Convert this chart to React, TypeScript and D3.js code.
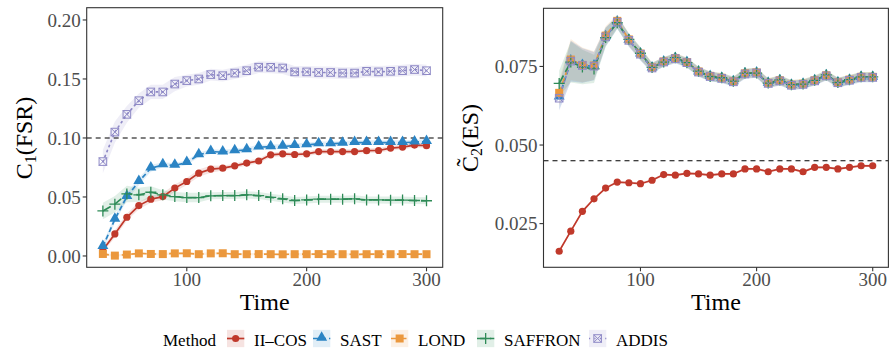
import React from "react";
import * as d3 from "d3";

// ---------------- data ----------------
const times = [30, 40, 50, 60, 70, 80, 90, 100, 110, 120, 130, 140, 150, 160, 170, 180, 190, 200, 210, 220, 230, 240, 250, 260, 270, 280, 290, 300];

const methods = ["II\u2013COS", "SAST", "LOND", "SAFFRON", "ADDIS"];

// C1 (FSR)
const iicosFSR = [0.005, 0.0187, 0.0328, 0.0427, 0.0481, 0.0503, 0.0575, 0.0631, 0.0702, 0.0736, 0.0744, 0.0764, 0.0787, 0.0805, 0.0857, 0.0866, 0.086, 0.0866, 0.0885, 0.0885, 0.0885, 0.0885, 0.0892, 0.0894, 0.0914, 0.0923, 0.094, 0.0935];
const sastFSR = [0.0079, 0.0311, 0.0503, 0.063, 0.0744, 0.0772, 0.0767, 0.0792, 0.0857, 0.0885, 0.088, 0.0891, 0.09, 0.0923, 0.0925, 0.0928, 0.0934, 0.0942, 0.095, 0.095, 0.0955, 0.096, 0.096, 0.096, 0.096, 0.096, 0.0965, 0.097];
const londFSR = [0.0017, 0.0003, 0.0012, 0.0022, 0.0017, 0.0016, 0.0022, 0.0023, 0.0015, 0.0022, 0.0023, 0.0015, 0.0015, 0.0016, 0.0015, 0.0014, 0.0015, 0.0015, 0.0016, 0.0015, 0.0015, 0.0014, 0.0015, 0.0015, 0.0015, 0.0016, 0.0015, 0.0015];
const saffronFSR = [0.0382, 0.0439, 0.0526, 0.0518, 0.054, 0.0518, 0.0503, 0.0495, 0.0495, 0.051, 0.0512, 0.0512, 0.0518, 0.0512, 0.0497, 0.0484, 0.047, 0.0475, 0.0481, 0.0481, 0.0481, 0.0484, 0.0475, 0.0475, 0.0473, 0.0474, 0.047, 0.0468];
const addisFSR = [0.08, 0.105, 0.12, 0.1316, 0.139, 0.139, 0.1457, 0.1486, 0.15, 0.1537, 0.1528, 0.155, 0.157, 0.16, 0.1599, 0.1593, 0.156, 0.156, 0.1555, 0.1555, 0.155, 0.155, 0.1565, 0.156, 0.1565, 0.157, 0.158, 0.157];

// half-widths of the shaded bands (FSR)
const iicosFSRse = [0.002, 0.003, 0.003, 0.003, 0.003, 0.003, 0.003, 0.003, 0.003, 0.003, 0.002, 0.002, 0.002, 0.002, 0.002, 0.002, 0.002, 0.002, 0.002, 0.002, 0.002, 0.002, 0.002, 0.002, 0.002, 0.002, 0.002, 0.002];
const sastFSRse = [0.003, 0.003, 0.003, 0.003, 0.003, 0.002, 0.002, 0.002, 0.002, 0.002, 0.002, 0.002, 0.002, 0.002, 0.002, 0.002, 0.002, 0.002, 0.002, 0.002, 0.002, 0.002, 0.002, 0.002, 0.002, 0.002, 0.002, 0.002];
const londFSRse = [0.001, 0.001, 0.001, 0.001, 0.001, 0.001, 0.001, 0.001, 0.001, 0.001, 0.001, 0.001, 0.001, 0.001, 0.001, 0.001, 0.001, 0.001, 0.001, 0.001, 0.001, 0.001, 0.001, 0.001, 0.001, 0.001, 0.001, 0.001];
const saffronFSRse = [0.007, 0.007, 0.007, 0.006, 0.005, 0.004, 0.004, 0.004, 0.004, 0.003, 0.003, 0.003, 0.003, 0.003, 0.003, 0.003, 0.003, 0.003, 0.003, 0.003, 0.003, 0.003, 0.003, 0.003, 0.003, 0.003, 0.003, 0.003];
const addisFSRse = [0.01, 0.009, 0.007, 0.006, 0.006, 0.006, 0.006, 0.005, 0.005, 0.005, 0.005, 0.005, 0.005, 0.005, 0.005, 0.005, 0.005, 0.005, 0.005, 0.005, 0.005, 0.005, 0.005, 0.005, 0.005, 0.005, 0.005, 0.005];

// C2~ (ES)
const iicosES = [0.0162, 0.0226, 0.0289, 0.0329, 0.0363, 0.0382, 0.038, 0.0377, 0.0388, 0.0406, 0.0404, 0.041, 0.0408, 0.0404, 0.0408, 0.0408, 0.0424, 0.0424, 0.0415, 0.0424, 0.0424, 0.0415, 0.0429, 0.0429, 0.0424, 0.0429, 0.0434, 0.0434];
const sastES = [0.0652, 0.0767, 0.0753, 0.0751, 0.0844, 0.0891, 0.0833, 0.0789, 0.0745, 0.0764, 0.0775, 0.0762, 0.0732, 0.0718, 0.0712, 0.0701, 0.0726, 0.0729, 0.0696, 0.0704, 0.069, 0.0693, 0.0704, 0.072, 0.0698, 0.0706, 0.0715, 0.0715];
const londES = [0.0666, 0.0772, 0.0755, 0.0753, 0.0848, 0.0895, 0.0836, 0.0791, 0.0747, 0.0766, 0.0777, 0.0764, 0.0734, 0.072, 0.0714, 0.0703, 0.0728, 0.0731, 0.0698, 0.0706, 0.0692, 0.0695, 0.0706, 0.0722, 0.07, 0.0708, 0.0717, 0.0717];
const saffronES = [0.0696, 0.0764, 0.0748, 0.0742, 0.0842, 0.0889, 0.0836, 0.0792, 0.0747, 0.0764, 0.0778, 0.0762, 0.0735, 0.0718, 0.0714, 0.0703, 0.0729, 0.0729, 0.0697, 0.0707, 0.0692, 0.0694, 0.0706, 0.0723, 0.0699, 0.0708, 0.0717, 0.0717];
const addisES = [0.0649, 0.0767, 0.0753, 0.0751, 0.0844, 0.0891, 0.0833, 0.0789, 0.0745, 0.0764, 0.0775, 0.0762, 0.0732, 0.0718, 0.0712, 0.0701, 0.0726, 0.0729, 0.0696, 0.0704, 0.069, 0.0693, 0.0704, 0.072, 0.0698, 0.0706, 0.0715, 0.0715];

const iicosESse = [0.0004, 0.0004, 0.0004, 0.0004, 0.0004, 0.0004, 0.0004, 0.0004, 0.0004, 0.0004, 0.0004, 0.0004, 0.0004, 0.0004, 0.0004, 0.0004, 0.0004, 0.0004, 0.0004, 0.0004, 0.0004, 0.0004, 0.0004, 0.0004, 0.0004, 0.0004, 0.0004, 0.0004];
const upperESse = [0.004, 0.0065, 0.0055, 0.0045, 0.003, 0.002, 0.002, 0.002, 0.0015, 0.0015, 0.0015, 0.0015, 0.0015, 0.0015, 0.0015, 0.0015, 0.0015, 0.0015, 0.0015, 0.0015, 0.0015, 0.0015, 0.0015, 0.0015, 0.0015, 0.0015, 0.0015, 0.0015];

const fsrTicks = [0.0, 0.05, 0.1, 0.15, 0.2];
const esTicks = [0.025, 0.05, 0.075];
const timeTicks = [100, 200, 300];
const fsrTarget = 0.1;
const esTarget = 0.045;

// ---------------- styles ----------------
const colors = ["#C0392B", "#2B84C4", "#EB983D", "#2E8B57", "#8E89C6"];
const dashes = ["none", "5,3", "6,3.5", "9,4", "1.2,4.2"];
const FONT = "'Liberation Serif', 'Times New Roman', serif";
const TICK_COLOR = "#4D4D4D";
const BORDER = "#333333";

type Series = { name: string; idx: number; values: number[]; se: number[] };

function Marker({ idx, x, y, color }: { idx: number; x: number; y: number; color: string }) {
  if (idx === 0) return <circle cx={x} cy={y} r={3.6} fill={color} />;
  if (idx === 1) return <path d={d3.symbol(d3.symbolTriangle, 52)() as string} transform={`translate(${x},${y - 0.8})`} fill={color} />;
  if (idx === 2) return <rect x={x - 4} y={y - 4} width={8} height={8} fill={color} />;
  if (idx === 3)
    return (
      <path d={`M${x - 5.5},${y}H${x + 5.5}M${x},${y - 5.5}V${y + 5.5}`} stroke={color} strokeWidth={1.3} fill="none" />
    );
  return (
    <g stroke={color} strokeWidth={1} fill="none">
      <rect x={x - 3.8} y={y - 3.8} width={7.6} height={7.6} />
      <path d={`M${x - 3.8},${y - 3.8}L${x + 3.8},${y + 3.8}M${x - 3.8},${y + 3.8}L${x + 3.8},${y - 3.8}`} />
    </g>
  );
}

function Panel(props: {
  left: number; right: number; top: number; bottom: number;
  yDomain: [number, number]; yTicks: number[]; fmt: (v: number) => string;
  series: Series[]; target: number; ribbonAlpha: number;
}) {
  const { left, right, top, bottom, yDomain, yTicks, fmt, series, target, ribbonAlpha } = props;
  const x = d3.scaleLinear().domain([16.5, 313.5]).range([left, right]);
  const y = d3.scaleLinear().domain(yDomain).range([bottom, top]);
  const clipId = `clip-${Math.round(left)}`;
  return (
    <g>
      <defs>
        <clipPath id={clipId}>
          <rect x={left} y={top} width={right - left} height={bottom - top} />
        </clipPath>
      </defs>
      <g clipPath={`url(#${clipId})`}>
        {series.map((s) => {
          const area = d3.area<number>().x((_, i) => x(times[i])).y0((v, i) => y(v - s.se[i])).y1((v, i) => y(v + s.se[i]));
          return <path key={"r" + s.idx} d={area(s.values) as string} fill={colors[s.idx]} fillOpacity={ribbonAlpha} stroke="none" />;
        })}
        <line x1={left} x2={right} y1={y(target)} y2={y(target)} stroke="#000" strokeWidth={1.1} strokeDasharray="5,4" />
        {series.map((s) => {
          const line = d3.line<number>().x((_, i) => x(times[i])).y((v) => y(v));
          return (
            <path key={"l" + s.idx} d={line(s.values) as string} fill="none" stroke={colors[s.idx]} strokeWidth={1.7}
              strokeDasharray={dashes[s.idx]} strokeLinecap={s.idx === 4 ? "round" : "butt"} />
          );
        })}
        {series.map((s) => (
          <g key={"m" + s.idx}>
            {s.values.map((v, i) => (
              <Marker key={i} idx={s.idx} x={x(times[i])} y={y(v)} color={colors[s.idx]} />
            ))}
          </g>
        ))}
      </g>
      <rect x={left} y={top} width={right - left} height={bottom - top} fill="none" stroke={BORDER} strokeWidth={1.1} />
      {yTicks.map((t) => (
        <g key={"yt" + t}>
          <line x1={left - 4} x2={left} y1={y(t)} y2={y(t)} stroke={BORDER} strokeWidth={1.1} />
          <text x={left - 6} y={y(t)} dy="0.35em" textAnchor="end" fontSize={19} fill={TICK_COLOR} fontFamily={FONT}>{fmt(t)}</text>
        </g>
      ))}
      {timeTicks.map((t) => (
        <g key={"xt" + t}>
          <line x1={x(t)} x2={x(t)} y1={bottom} y2={bottom + 4} stroke={BORDER} strokeWidth={1.1} />
          <text x={x(t)} y={286} textAnchor="middle" fontSize={19} fill={TICK_COLOR} fontFamily={FONT}>{t}</text>
        </g>
      ))}
      <text x={(left + right) / 2} y={310} textAnchor="middle" fontSize={24} fill="#000" fontFamily={FONT}>Time</text>
    </g>
  );
}

const legendKeyX = [227, 313, 391, 477, 589];

export default function App() {
  const fsrSeries: Series[] = [
    { name: methods[0], idx: 0, values: iicosFSR, se: iicosFSRse },
    { name: methods[1], idx: 1, values: sastFSR, se: sastFSRse },
    { name: methods[2], idx: 2, values: londFSR, se: londFSRse },
    { name: methods[3], idx: 3, values: saffronFSR, se: saffronFSRse },
    { name: methods[4], idx: 4, values: addisFSR, se: addisFSRse },
  ];
  const esSeries: Series[] = [
    { name: methods[0], idx: 0, values: iicosES, se: iicosESse },
    { name: methods[1], idx: 1, values: sastES, se: upperESse },
    { name: methods[2], idx: 2, values: londES, se: upperESse },
    { name: methods[3], idx: 3, values: saffronES, se: upperESse },
    { name: methods[4], idx: 4, values: addisES, se: upperESse },
  ];
  const legY = 338.5;
  return (
    <div style={{ position: "absolute", left: 0, top: 0 }}>
      <svg width={889} height={350} style={{ display: "block", background: "#fff" }} fontFamily={FONT}>
        <Panel left={86.7} right={442.7} top={7.7} bottom={267.3} yDomain={[-0.0096, 0.2104]} yTicks={fsrTicks}
          fmt={d3.format(".2f")} series={fsrSeries} target={fsrTarget} ribbonAlpha={0.14} />
        <Panel left={543.5} right={888.4} top={8.3} bottom={267.3} yDomain={[0.0111, 0.0935]} yTicks={esTicks}
          fmt={d3.format(".3f")} series={esSeries} target={esTarget} ribbonAlpha={0.15} />
        {/* y titles */}
        <text transform="translate(32,138) rotate(-90)" textAnchor="middle" fontSize={24} fill="#000">
          C<tspan fontSize={16} dy={4}>1</tspan><tspan dy={-4}>(FSR)</tspan>
        </text>
        <text transform="translate(478,138) rotate(-90)" textAnchor="middle" fontSize={24} fill="#000">
          {"C\u0303"}<tspan fontSize={16} dy={4}>2</tspan><tspan dy={-4}>(ES)</tspan>
        </text>
        {/* legend */}
        <text x={163} y={legY + 7.5} fontSize={17} fill="#000">Method</text>
        {methods.map((m, i) => {
          const kx = legendKeyX[i];
          return (
            <g key={m}>
              <rect x={kx} y={legY - 8.65} width={17.3} height={17.3} fill={colors[i]} fillOpacity={0.14} />
              <line x1={kx} x2={kx + 17.3} y1={legY} y2={legY} stroke={colors[i]} strokeWidth={1.7} strokeDasharray={dashes[i]} />
              <Marker idx={i} x={kx + 8.65} y={legY} color={colors[i]} />
              <text x={kx + 27} y={legY + 7.5} fontSize={17} fill="#000">{m}</text>
            </g>
          );
        })}
      </svg>
    </div>
  );
}
